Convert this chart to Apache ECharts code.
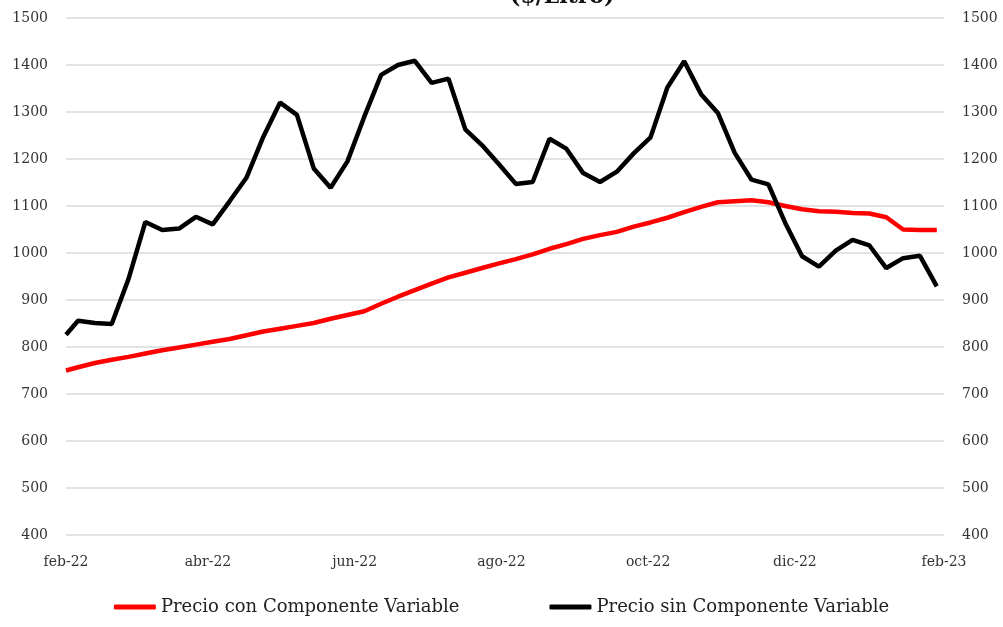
<!DOCTYPE html>
<html>
<head>
<meta charset="utf-8">
<script src="https://cdn.jsdelivr.net/npm/echarts@6/dist/echarts.min.js"></script>
<style>
html,body{margin:0;padding:0;background:#fff;}
#chart{width:1003px;height:627px;}
</style>
</head>
<body>
<div id="chart"></div>
<script>
const titleText = "($/Litro)";
const seriesNames = ["Precio con Componente Variable", "Precio sin Componente Variable"];
const dates = [
 "2022-02-01","2022-02-06","2022-02-13","2022-02-20","2022-02-27",
 "2022-03-06","2022-03-13","2022-03-20","2022-03-27",
 "2022-04-03","2022-04-10","2022-04-17","2022-04-24",
 "2022-05-01","2022-05-08","2022-05-15","2022-05-22","2022-05-29",
 "2022-06-05","2022-06-12","2022-06-19","2022-06-26",
 "2022-07-03","2022-07-10","2022-07-17","2022-07-24","2022-07-31",
 "2022-08-07","2022-08-14","2022-08-21","2022-08-28",
 "2022-09-04","2022-09-11","2022-09-18","2022-09-25",
 "2022-10-02","2022-10-09","2022-10-16","2022-10-23","2022-10-30",
 "2022-11-06","2022-11-13","2022-11-20","2022-11-27",
 "2022-12-04","2022-12-11","2022-12-18","2022-12-25",
 "2023-01-01","2023-01-08","2023-01-15","2023-01-22","2023-01-29"
];
const conVariable = [750,757,766,773,779,786,793,799,805,811,817,825,833,839,845,851,860,868,876,892,907,921,935,948,958,968,978,987,997,1009,1019,1030,1038,1045,1056,1065,1075,1087,1098,1108,1110,1112,1108,1100,1093,1089,1088,1085,1084,1076,1050,1049,1049];
const sinVariable = [826,856,851,849,945,1066,1049,1052,1077,1061,1110,1160,1247,1320,1294,1180,1139,1195,1290,1379,1400,1409,1362,1371,1263,1229,1189,1147,1151,1243,1222,1170,1151,1173,1212,1246,1352,1408,1338,1298,1213,1156,1146,1064,993,971,1005,1028,1016,968,989,994,929];
const xTickDates = ["2022-02-01","2022-04-01","2022-06-01","2022-08-01","2022-10-01","2022-12-01","2023-02-01"];
const xTickLabels = ["feb-22","abr-22","jun-22","ago-22","oct-22","dic-22","feb-23"];
const yMin = 400, yMax = 1500, yStep = 100;

// day offsets from the first tick date (a date axis measured in days)
function toTs(s){ const p = s.split('-').map(Number); return Date.UTC(p[0], p[1]-1, p[2]); }
const t0 = toTs(xTickDates[0]);
const toDay = s => Math.round((toTs(s) - t0) / 86400000);
const tickDays = xTickDates.map(toDay);
const labelMap = {};
tickDays.forEach((d,i)=>{ labelMap[d] = xTickLabels[i]; });

const FONT = "DejaVu Serif";
const chart = echarts.init(document.getElementById('chart'));
const yAxisBase = {
  type: 'value', min: yMin, max: yMax, interval: yStep,
  axisLine: {show:false}, axisTick: {show:false},
  axisLabel: {fontFamily: FONT, fontSize: 14, color: '#333', margin: 18, formatter: v => String(v)}
};
chart.setOption({
  animation: false,
  title: {
    text: titleText, left: 505, top: -19,
    textStyle: {fontFamily: FONT, fontSize: 22, fontWeight: 'bold', color: '#111'}
  },
  grid: {left: 66, right: 59, top: 18, bottom: 92, containLabel: false},
  legend: {
    left: 'center', bottom: 6,
    itemWidth: 42, itemHeight: 5, itemGap: 90, icon: 'roundRect',
    textStyle: {fontFamily: FONT, fontSize: 18, color: '#222'},
    data: seriesNames
  },
  xAxis: {
    type: 'value', min: tickDays[0], max: tickDays[tickDays.length-1], interval: 1,
    axisLine: {show:false}, axisTick: {show:false}, splitLine: {show:false},
    axisLabel: {
      formatter: v => (labelMap[v] !== undefined ? labelMap[v] : ''),
      fontFamily: FONT, fontSize: 14, color: '#333', margin: 20,
      showMinLabel: true, showMaxLabel: true
    }
  },
  yAxis: [
    Object.assign({}, yAxisBase, {position:'left', splitLine:{show:true, lineStyle:{color:'#d9d9d9', width:1.5}}}),
    Object.assign({}, yAxisBase, {position:'right', splitLine:{show:false}})
  ],
  series: [
    {name: seriesNames[0], type:'line', yAxisIndex:0, showSymbol:false, symbol:'none',
     data: dates.map((d,i)=>[toDay(d), conVariable[i]]),
     lineStyle:{color:'#ff0000', width:4.5}, itemStyle:{color:'#ff0000'}, z:2},
    {name: seriesNames[1], type:'line', yAxisIndex:0, showSymbol:false, symbol:'none',
     data: dates.map((d,i)=>[toDay(d), sinVariable[i]]),
     lineStyle:{color:'#000000', width:4.5}, itemStyle:{color:'#000000'}, z:3}
  ]
});
</script>
</body>
</html>
